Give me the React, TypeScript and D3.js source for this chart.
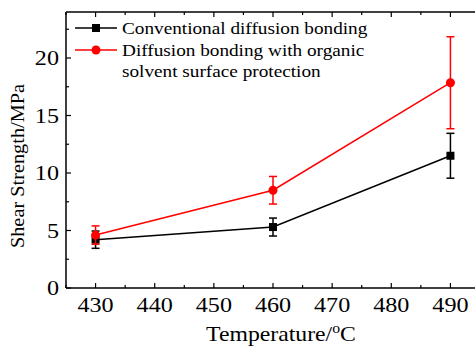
import React, { useEffect, useRef } from "react";
import * as d3 from "d3";

const temps = [430, 460, 490];
const conventional = [4.2, 5.3, 11.5];
const conventionalErr = [0.75, 0.78, 1.95];
const organic = [4.6, 8.5, 17.85];
const organicErr = [0.8, 1.2, 4.0];
const xTicks = [430, 440, 450, 460, 470, 480, 490];
const yTicks = [0, 5, 10, 15, 20];
const legendLabels = ["Conventional diffusion bonding", "Diffusion bonding with organic", "solvent surface protection"];

export default function App() {
  const svgRef = useRef<SVGSVGElement>(null);

  useEffect(() => {
    const w = 475;
    const h = 347;
    const svg = d3.select(svgRef.current).attr("width", w).attr("height", h);
    svg.selectAll("*").remove();

    const font = "'Liberation Serif', 'Times New Roman', serif";
    const left = 66, right = 480, top = 12, bottom = 288;

    const x = d3.scaleLinear().domain([425, 495]).range([left, right]);
    const y = d3.scaleLinear().domain([0, 24]).range([bottom, top]);

    // frame lines (left, bottom, top)
    const g = svg.append("g");
    g.append("line").attr("x1", left).attr("x2", left).attr("y1", top).attr("y2", bottom)
      .attr("stroke", "black").attr("stroke-width", 1.5);
    g.append("line").attr("x1", left).attr("x2", right).attr("y1", bottom).attr("y2", bottom)
      .attr("stroke", "black").attr("stroke-width", 1.5);
    g.append("line").attr("x1", left).attr("x2", right).attr("y1", top).attr("y2", top)
      .attr("stroke", "black").attr("stroke-width", 1.5);

    // ticks (inward)
    const xMinor = d3.range(425, 496, 5);
    const yMinor = d3.range(0, 24.1, 2.5);
    xMinor.forEach((t) => {
      const len = t % 10 === 0 ? 5 : 3;
      g.append("line").attr("x1", x(t)).attr("x2", x(t)).attr("y1", bottom).attr("y2", bottom - len)
        .attr("stroke", "black").attr("stroke-width", 1.2);
      g.append("line").attr("x1", x(t)).attr("x2", x(t)).attr("y1", top).attr("y2", top + len)
        .attr("stroke", "black").attr("stroke-width", 1.2);
    });
    yMinor.forEach((t) => {
      const len = t % 5 === 0 ? 5 : 3;
      g.append("line").attr("x1", left).attr("x2", left + len).attr("y1", y(t)).attr("y2", y(t))
        .attr("stroke", "black").attr("stroke-width", 1.2);
    });

    // tick labels (the source font is a bit wide, so stretch horizontally)
    g.selectAll(".xt").data(xTicks).join("text")
      .attr("transform", (d) => `translate(${x(d)},312) scale(1.15,1)`)
      .attr("text-anchor", "middle").attr("font-family", font).attr("font-size", 21)
      .text((d) => d);
    g.selectAll(".yt").data(yTicks).join("text")
      .attr("transform", (d) => `translate(59,${y(d) + 7}) scale(1.15,1)`)
      .attr("text-anchor", "end").attr("font-family", font).attr("font-size", 21)
      .text((d) => d);

    // axis titles
    const xt = svg.append("text").attr("transform", "translate(281,341) scale(1.13,1)")
      .attr("text-anchor", "middle").attr("font-family", font).attr("font-size", 21);
    xt.append("tspan").text("Temperature/");
    xt.append("tspan").attr("font-size", 14).attr("dy", -8).text("o");
    xt.append("tspan").attr("dy", 8).text("C");

    svg.append("text").attr("transform", `translate(24,166) rotate(-90) scale(1.07,1)`)
      .attr("text-anchor", "middle").attr("font-family", font).attr("font-size", 19)
      .text("Shear Strength/MPa");

    const series = [
      { vals: conventional, err: conventionalErr, color: "black", shape: "square" },
      { vals: organic, err: organicErr, color: "red", shape: "circle" },
    ];

    const line = d3.line<number>().x((_, i) => x(temps[i])).y((d) => y(d));

    series.forEach((s) => {
      svg.append("path").attr("d", line(s.vals)).attr("fill", "none")
        .attr("stroke", s.color).attr("stroke-width", 1.5);
      s.vals.forEach((v, i) => {
        const cx = x(temps[i]);
        const y0 = y(v - s.err[i]);
        const y1 = y(v + s.err[i]);
        svg.append("line").attr("x1", cx).attr("x2", cx).attr("y1", y0).attr("y2", y1)
          .attr("stroke", s.color).attr("stroke-width", 1.5);
        [y0, y1].forEach((yy) => {
          svg.append("line").attr("x1", cx - 4).attr("x2", cx + 4).attr("y1", yy).attr("y2", yy)
            .attr("stroke", s.color).attr("stroke-width", 1.5);
        });
        if (s.shape === "square") {
          svg.append("rect").attr("x", cx - 4).attr("y", y(v) - 4).attr("width", 8).attr("height", 8)
            .attr("fill", s.color);
        } else {
          svg.append("circle").attr("cx", cx).attr("cy", y(v)).attr("r", 4.5).attr("fill", s.color);
        }
      });
    });

    // legend
    const legY = [28, 50];
    series.forEach((s, i) => {
      svg.append("line").attr("x1", 75).attr("x2", 117).attr("y1", legY[i]).attr("y2", legY[i])
        .attr("stroke", s.color).attr("stroke-width", 1.5);
      if (s.shape === "square") {
        svg.append("rect").attr("x", 92).attr("y", legY[i] - 4).attr("width", 8).attr("height", 8).attr("fill", s.color);
      } else {
        svg.append("circle").attr("cx", 96).attr("cy", legY[i]).attr("r", 4.5).attr("fill", s.color);
      }
    });
    svg.selectAll(".leg").data(legendLabels).join("text")
      .attr("transform", (_, i) => `translate(122,${34 + i * 21.5}) scale(1.1,1)`)
      .attr("font-family", font).attr("font-size", 17.5)
      .text((d) => d);
  }, []);

  return (
    <div>
      <svg ref={svgRef} style={{ position: "absolute", left: 0, top: 0 }}></svg>
    </div>
  );
}
